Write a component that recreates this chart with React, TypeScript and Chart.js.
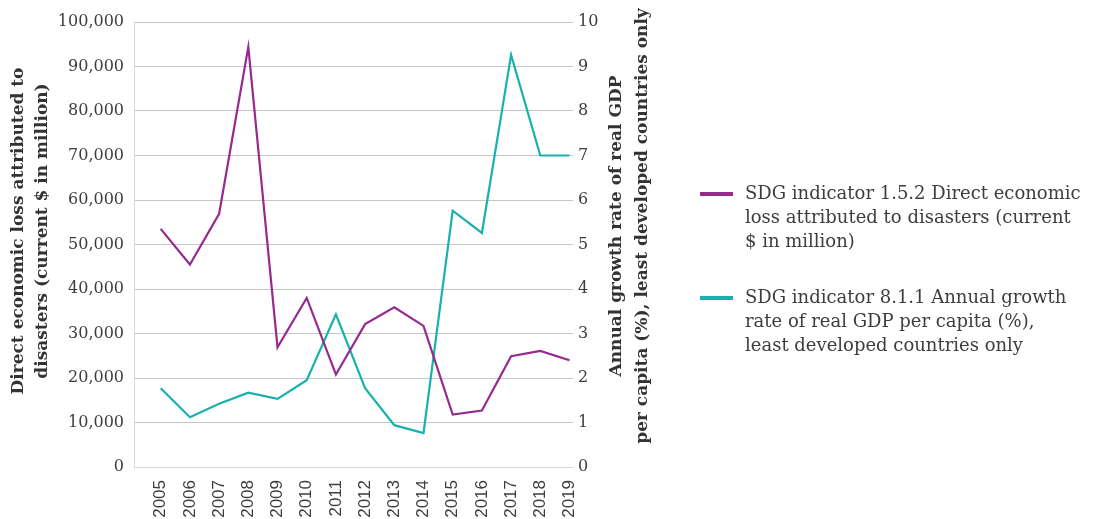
import React, { useEffect, useRef } from 'react';
import { Chart, registerables } from 'chart.js';

Chart.register(...registerables);

const years = [2005, 2006, 2007, 2008, 2009, 2010, 2011, 2012, 2013, 2014, 2015, 2016, 2017, 2018, 2019];
const lossValues = [53500, 45500, 56900, 94400, 26900, 38000, 20800, 32100, 35900, 31700, 11800, 12700, 24900, 26100, 24000];
const gdpValues = [1.77, 1.12, 1.42, 1.67, 1.53, 1.95, 3.43, 1.77, 0.94, 0.76, 5.76, 5.26, 9.26, 7.0, 7.0];

const leftTitleLines = ['Direct economic loss attributed to', 'disasters (current $ in million)'];
const rightTitleLines = ['Annual growth rate of real GDP', 'per capita (%), least developed countries only'];
const lossLegendLines = ['SDG indicator 1.5.2 Direct economic', 'loss attributed to disasters (current', '$ in million)'];
const gdpLegendLines = ['SDG indicator 8.1.1 Annual growth', 'rate of real GDP per capita (%),', 'least developed countries only'];

const PURPLE = '#972a8e';
const TEAL = '#17b1ae';
const SERIF = '"DejaVu Serif", serif';
const SANS = '"Liberation Sans", Arial, sans-serif';
const TEXT = '#3d3d3d';

const overlayPlugin = {
  id: 'overlay',
  afterDraw(chart: any) {
    const ctx = chart.ctx;
    const area = chart.chartArea;
    ctx.save();
    // axis titles
    ctx.fillStyle = '#333333';
    ctx.font = `bold 17px ${SERIF}`;
    ctx.textAlign = 'center';
    ctx.textBaseline = 'middle';
    const drawTitle = (lines: string[], xs: number[], cy: number) => {
      lines.forEach((line, i) => {
        ctx.save();
        ctx.translate(xs[i], cy);
        ctx.rotate(-Math.PI / 2);
        ctx.fillText(line, 0, 0);
        ctx.restore();
      });
    };
    drawTitle(leftTitleLines, [area.left - 115, area.left - 91], 231);
    drawTitle(rightTitleLines, [area.right + 44, area.right + 70], 226);

    // legend
    ctx.font = `18px ${SERIF}`;
    ctx.textAlign = 'left';
    const drawEntry = (lines: string[], color: string, y0: number) => {
      ctx.fillStyle = color;
      ctx.fillRect(area.right + 127, y0 - 2, 33, 4);
      ctx.fillStyle = TEXT;
      lines.forEach((line, i) => {
        ctx.fillText(line, area.right + 172, y0 + i * 24);
      });
    };
    drawEntry(lossLegendLines, PURPLE, 194);
    drawEntry(gdpLegendLines, TEAL, 298);
    ctx.restore();
  },
};

export default function App() {
  const canvasRef = useRef<HTMLCanvasElement>(null);

  useEffect(() => {
    if (!canvasRef.current) return;
    const chart = new Chart(canvasRef.current, {
      type: 'line',
      data: {
        datasets: [
          {
            label: lossLegendLines.join(' '),
            data: years.map((yr, i) => ({ x: yr, y: lossValues[i] })),
            borderColor: PURPLE,
            backgroundColor: PURPLE,
            borderWidth: 2.2,
            pointRadius: 0,
            tension: 0,
            yAxisID: 'y',
          },
          {
            label: gdpLegendLines.join(' '),
            data: years.map((yr, i) => ({ x: yr, y: gdpValues[i] })),
            borderColor: TEAL,
            backgroundColor: TEAL,
            borderWidth: 2.2,
            pointRadius: 0,
            tension: 0,
            yAxisID: 'y1',
          },
        ],
      },
      options: {
        animation: false,
        responsive: true,
        maintainAspectRatio: false,
        layout: { padding: { top: 22, right: 444, left: 0, bottom: 0 } },
        plugins: {
          legend: { display: false },
          tooltip: { enabled: false },
        },
        scales: {
          x: {
            type: 'linear',
            min: 2004.085,
            max: 2019.12,
            afterBuildTicks: (scale: any) => {
              scale.ticks = years.map((v) => ({ value: v }));
            },
            afterFit: (scale: any) => {
              scale.height = 52;
            },
            grid: { display: false },
            border: { display: true, color: '#d9d9d9' },
            ticks: {
              autoSkip: false,
              minRotation: 90,
              maxRotation: 90,
              padding: 5,
              color: TEXT,
              font: { family: SANS, size: 17 },
              callback: (v: any) => String(v),
            },
          },
          y: {
            position: 'left',
            min: 0,
            max: 100000,
            afterFit: (scale: any) => {
              scale.width = 134;
            },
            ticks: {
              stepSize: 10000,
              padding: 10,
              color: TEXT,
              font: { family: SERIF, size: 16 },
              callback: (v: any) => Number(v).toLocaleString('en-US'),
            },
            grid: { color: '#c6c6c6', drawTicks: false, lineWidth: 1 },
            border: { display: true, color: '#d9d9d9' },
          },
          y1: {
            position: 'right',
            min: 0,
            max: 10,
            afterFit: (scale: any) => {
              scale.width = 80;
            },
            ticks: {
              stepSize: 1,
              padding: 5,
              color: TEXT,
              font: { family: SERIF, size: 16 },
            },
            grid: { display: false, drawTicks: false },
            border: { display: false },
          },
        },
      },
      plugins: [overlayPlugin],
    });
    return () => chart.destroy();
  }, []);

  return (
    <div style={{ position: 'absolute', left: 0, top: 0, width: 1097, height: 519 }}>
      <canvas ref={canvasRef} />
    </div>
  );
}
